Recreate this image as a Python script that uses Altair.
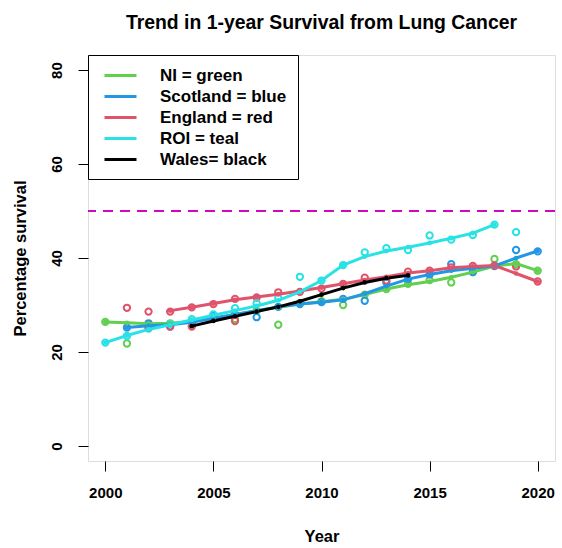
import altair as alt
import pandas as pd

years = list(range(2000, 2021))

labels = ["NI = green", "Scotland = blue", "England = red", "ROI = teal", "Wales= black"]
colours = ["#61D04F", "#2297E6", "#DF536B", "#28E2E5", "#000000"]

# Observed one-year survival (%), one value per year 2000-2020 (None = no figure)
ni_raw = [26.4, 21.8, 26.0, 26.1, 26.5, 27.2, 27.0, 28.8, 25.8, 30.4, 30.8,
          30.0, 32.2, 33.4, 34.5, 35.3, 34.8, 37.0, 39.8, 38.7, 37.3]
scot_raw = [None, 25.2, 26.1, 25.4, 26.3, 27.7, 28.0, 27.4, 29.6, 30.2, 30.6,
            31.3, 30.9, 34.8, 35.5, 36.5, 38.7, 37.0, 38.3, 41.7, 41.4]
eng_raw = [None, 29.4, 28.6, 28.6, 29.5, 30.2, 31.3, 31.6, 32.7, 32.8, 33.5,
           34.5, 35.8, 35.2, 37.1, 37.3, 38.0, 38.3, 38.4, 38.2, 35.0]
roi_raw = [22.0, 23.4, 25.0, 26.0, 27.0, 28.0, 29.3, 30.4, 31.5, 36.0, 35.2,
           38.5, 41.2, 42.1, 41.7, 44.8, 43.9, 44.9, 47.1, 45.5, None]
# Lower early-year England figures plotted alongside the main series
eng_low_raw = [None, None, 25.2, 25.4, 25.4, None, 26.6, None, None, None, None,
               None, None, None, None, None, None, None, None, None, None]

# Smoothed trend per nation
ni_fit = [26.4, 26.2, 26.0, 26.1, 26.5, 27.2, 28.0, 28.8, 29.5, 30.2, 30.7,
          31.2, 32.2, 33.4, 34.3, 35.0, 35.9, 37.0, 38.3, 38.8, 37.3]
scot_fit = [None, 25.2, 25.6, 25.8, 26.3, 27.2, 28.0, 28.8, 29.6, 30.2, 30.6,
            31.1, 32.4, 34.0, 35.5, 36.5, 37.3, 37.8, 38.3, 40.0, 41.5]
eng_fit = [None, None, None, 28.8, 29.5, 30.3, 31.1, 31.7, 32.3, 33.0, 33.7,
           34.5, 35.3, 36.0, 36.8, 37.3, 37.9, 38.2, 38.4, 36.7, 35.0]
roi_fit = [22.0, 23.5, 24.8, 25.8, 26.8, 27.8, 28.8, 29.8, 31.0, 32.8, 35.2,
           38.5, 40.3, 41.5, 42.3, 43.2, 44.2, 45.3, 47.1, None, None]
wales_fit = [None, None, None, None, 25.5, 26.6, 27.6, 28.6, 29.6, 30.8, 32.2,
             33.6, 34.8, 35.7, 36.3, None, None, None, None, None, None]

target = [50]


def long(values, series):
    return [{"year": y, "value": v, "series": series}
            for y, v in zip(years, values) if v is not None]


raw_df = pd.DataFrame(long(ni_raw, labels[0]) + long(scot_raw, labels[1])
                      + long(eng_raw, labels[2]) + long(roi_raw, labels[3]))
low_df = pd.DataFrame(long(eng_low_raw, labels[2]))
fit_df = pd.DataFrame(long(ni_fit, labels[0]) + long(scot_fit, labels[1])
                      + long(eng_fit, labels[2]) + long(roi_fit, labels[3])
                      + long(wales_fit, labels[4]))
target_df = pd.DataFrame({"value": target})

FONT = "Liberation Sans"

x = alt.X("year:Q",
          scale=alt.Scale(domain=[1999.2, 2020.8], nice=False, zero=False),
          axis=alt.Axis(values=[2000, 2005, 2010, 2015, 2020], format="d",
                        title="Year", grid=False, domain=False,
                        tickColor="black", tickSize=10, tickWidth=1,
                        labelPadding=14, labelFontSize=15, labelFontWeight="bold",
                        labelColor="black", labelFont=FONT,
                        titleFont=FONT, titleFontSize=16.5, titleFontWeight="bold",
                        titleColor="black", titlePadding=28))
y = alt.Y("value:Q",
          scale=alt.Scale(domain=[-3.2, 83.2], nice=False, zero=False),
          axis=alt.Axis(values=[0, 20, 40, 60, 80], title="Percentage survival",
                        grid=False, domain=False, tickColor="black", tickSize=10,
                        tickWidth=1, labelAngle=-90, labelAlign="center",
                        labelBaseline="bottom", labelPadding=14,
                        labelFontSize=15, labelFontWeight="bold", labelColor="black",
                        labelFont=FONT, titleFont=FONT, titleFontSize=16.5,
                        titleFontWeight="bold", titleColor="black", titlePadding=21))

colour = alt.Color("series:N",
                   scale=alt.Scale(domain=labels, range=colours),
                   sort=labels,
                   legend=alt.Legend(title=None, orient="top-left", offset=0,
                                     fillColor="white", strokeColor="black",
                                     padding=11,
                                     symbolType="M-0.5,0H3.5",
                                     symbolStrokeWidth=3, symbolSize=256,
                                     labelOffset=42, rowPadding=3,
                                     labelFont=FONT, labelFontSize=17,
                                     labelFontWeight="bold", labelColor="black"))

ref_line = alt.Chart(target_df).mark_rule(
    color="#CD0BBC", strokeWidth=2, strokeDash=[10, 7]
).encode(y=alt.Y("value:Q", scale=alt.Scale(domain=[-3.2, 83.2], nice=False)))

raw_pts = alt.Chart(raw_df).mark_point(
    shape="circle", filled=False, size=40, strokeWidth=2, opacity=1
).encode(x=x, y=y, color=colour)

low_pts = alt.Chart(low_df).mark_point(
    shape="circle", filled=False, size=40, strokeWidth=2, opacity=1,
    color="#DF536B"
).encode(x=x, y=y)

fit_lines = alt.Chart(fit_df).mark_line(strokeWidth=3).encode(
    x=x, y=y, color=colour, detail="series:N")

fit_dots = alt.Chart(fit_df).mark_point(
    shape="circle", filled=True, size=22, opacity=1
).encode(x=x, y=y, color=colour)

chart = alt.layer(ref_line, raw_pts, low_pts, fit_lines, fit_dots).properties(
    width=467, height=406,
    padding={"left": 88, "top": 55, "right": 7, "bottom": 87},
    autosize=alt.AutoSizeParams(type="none"),
    title=alt.TitleParams("Trend in 1-year Survival from Lung Cancer",
                          font=FONT, fontSize=19.4, fontWeight="bold",
                          color="black", anchor="middle", offset=21),
).configure_view(stroke="black", strokeWidth=1).configure(background="white")

chart.save("out.html", embed_options={"renderer": "svg", "actions": False})
